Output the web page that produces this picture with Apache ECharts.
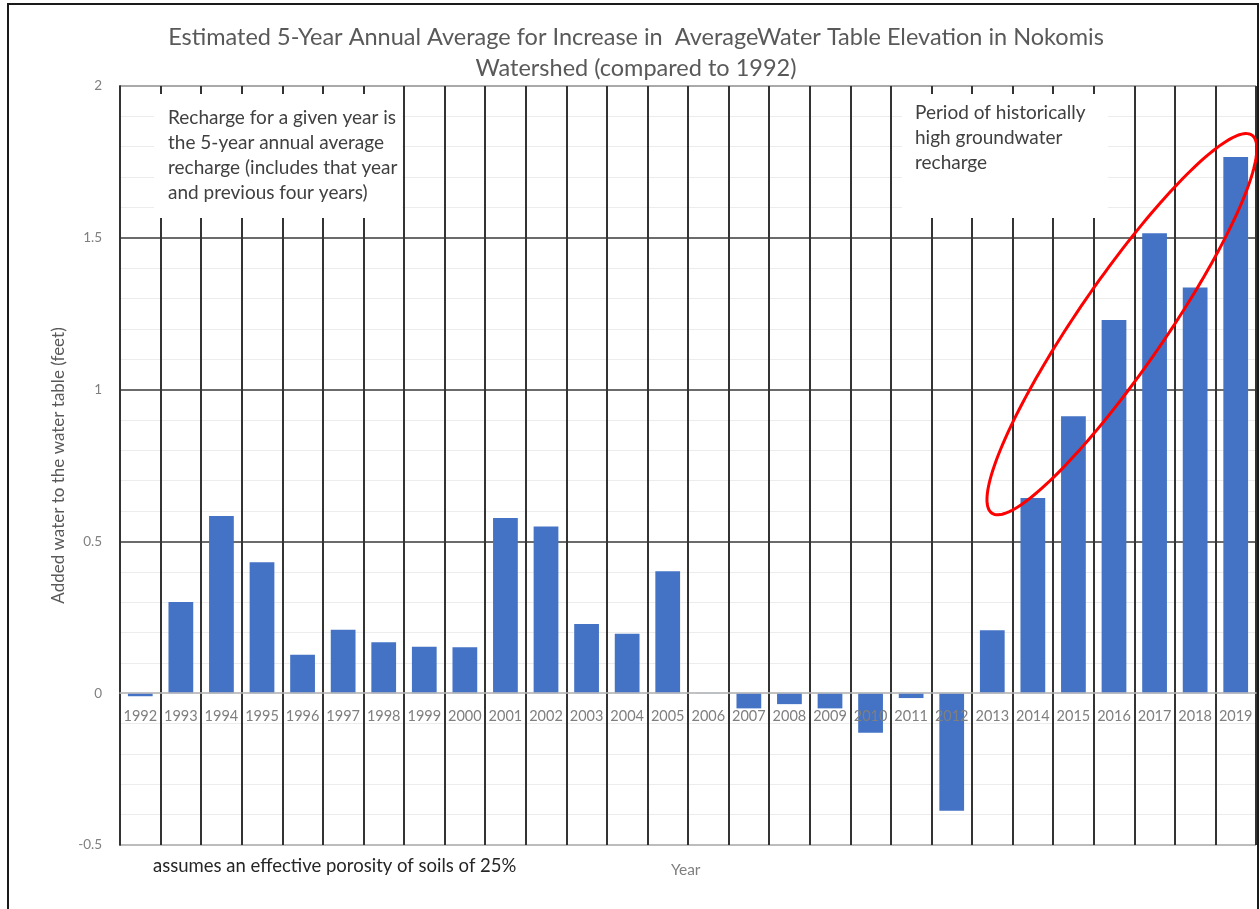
<!DOCTYPE html>
<html>
<head>
<meta charset="utf-8">
<script src="https://cdn.jsdelivr.net/npm/echarts@6/dist/echarts.min.js"></script>
<style>
html,body{margin:0;padding:0;background:#fff;}
#chart{width:1260px;height:909px;}
</style>
</head>
<body>
<div id="chart"></div>
<script>
const years = ['1992','1993','1994','1995','1996','1997','1998','1999','2000','2001','2002','2003','2004','2005','2006','2007','2008','2009','2010','2011','2012','2013','2014','2015','2016','2017','2018','2019'];
const addedWater = [-0.01,0.30,0.584,0.431,0.127,0.209,0.168,0.153,0.151,0.577,0.549,0.228,0.196,0.402,0.001,-0.05,-0.036,-0.05,-0.13,-0.016,-0.387,0.207,0.643,0.912,1.229,1.515,1.336,1.766];
const yTicks = {min:-0.5, max:2, interval:0.5};
const titleLines = ['Estimated 5-Year Annual Average for Increase in  AverageWater Table Elevation in Nokomis','Watershed (compared to 1992)'];
const noteLeft = ['Recharge for a given year is','the 5-year annual average','recharge (includes that year','and previous four years)'];
const noteRight = ['Period of historically','high groundwater','recharge'];
const footnote = 'assumes an effective porosity of soils of 25%';
const yName = 'Added water to the water table (feet)';
const xName = 'Year';
// ellipse annotation tips in data space: [category index (0 = centre of 1992), value]
const ellipseTips = [[20.99,0.593],[27.4,1.838]];
const ellipseHalfWidthCats = 1.08;

const FONT = 'Lato';
const GRID = {left:120, right:4, top:86, bottom:64};
const gridH = 909 - GRID.top - GRID.bottom;
const zeroOffset = -gridH * (0 - yTicks.min) / (yTicks.max - yTicks.min);

const chart = echarts.init(document.getElementById('chart'), null, {renderer:'canvas'});
const splitColors = ['#a6a6a6','#bfbfbf','#3a3a3a','#3a3a3a','#3a3a3a','#8c8c8c'];
chart.setOption({
  animation:false,
  backgroundColor:'#fff',
  textStyle:{fontFamily:FONT},
  grid:Object.assign({containLabel:false}, GRID),
  xAxis:{
    type:'category', data:years, boundaryGap:true, z:5,
    offset: zeroOffset,
    axisLine:{show:true, onZero:false, lineStyle:{color:'#bfbfbf', width:1.5}},
    axisTick:{show:false},
    axisLabel:{interval:0, color:'#7f7f7f', fontSize:14.5, margin:16, fontFamily:FONT},
    splitLine:{show:true, interval:0, lineStyle:{color:'#333', width:2}}
  },
  yAxis:{
    type:'value', min:yTicks.min, max:yTicks.max, interval:yTicks.interval,
    name:yName, nameLocation:'middle', nameGap:48,
    nameTextStyle:{color:'#595959', fontSize:17, fontFamily:FONT},
    axisLine:{show:true, lineStyle:{color:'#444', width:2}},
    axisTick:{show:false},
    axisLabel:{color:'#7f7f7f', fontSize:13.5, margin:18, fontFamily:FONT},
    splitLine:{show:true, lineStyle:{color:splitColors, width:1.5}},
    minorTick:{show:false, splitNumber:5},
    minorSplitLine:{show:true, lineStyle:{color:'#ececec', width:1}}
  },
  series:[{
    type:'bar', data:addedWater, barCategoryGap:'39%',
    itemStyle:{color:'#4472C4'}
  }]
});

function boxGroup(x, y, w, h, tx, ty, lines){
  return {
    type:'group', x:x, y:y, z:100,
    children:[
      {type:'rect', z:100, shape:{x:0,y:0,width:w,height:h}, style:{fill:'#fff'}},
      {type:'text', z:101, x:tx, y:ty, style:{text:lines.join('\n'), fill:'#404040', font:'19px ' + FONT, lineHeight:25}}
    ]
  };
}

const p0 = chart.convertToPixel({gridIndex:0},[0,0]);
const p1 = chart.convertToPixel({gridIndex:0},[1,1]);
const catW = p1[0]-p0[0], unitH = p1[1]-p0[1];
function toPx(c, v){ return [p0[0]+c*catW, p0[1]+v*unitH]; }
const t1 = toPx(ellipseTips[0][0], ellipseTips[0][1]);
const t2 = toPx(ellipseTips[1][0], ellipseTips[1][1]);
const cx = (t1[0]+t2[0])/2, cy = (t1[1]+t2[1])/2;
const a = Math.hypot(t2[0]-t1[0], t2[1]-t1[1])/2;
const b = ellipseHalfWidthCats*catW;
const ux = (t2[0]-t1[0])/(2*a), uy = (t2[1]-t1[1])/(2*a);
const vx = -uy, vy = ux;
const ellPts = [];
for (let i = 0; i < 180; i++) {
  const t = i/180*2*Math.PI;
  ellPts.push([cx + a*Math.cos(t)*ux + b*Math.sin(t)*vx, cy + a*Math.cos(t)*uy + b*Math.sin(t)*vy]);
}

chart.setOption({
  graphic:[
    {type:'rect', z:200, shape:{x:8,y:4,width:1250,height:920}, style:{fill:'none', stroke:'#1a1a1a', lineWidth:2}},
    {type:'text', z:100, x:636, y:37, style:{text:titleLines[0], fill:'#595959', font:'23.5px ' + FONT, textAlign:'center', textVerticalAlign:'middle'}},
    {type:'text', z:100, x:636, y:68, style:{text:titleLines[1], fill:'#595959', font:'23.5px ' + FONT, textAlign:'center', textVerticalAlign:'middle'}},
    boxGroup(154, 94, 248, 124, 14, 11, noteLeft),
    boxGroup(902, 94, 206, 124, 13, 6, noteRight),
    {type:'polygon', z:150, shape:{points:ellPts}, style:{fill:'none', stroke:'#ff0000', lineWidth:3}},
    {type:'text', z:100, x:153, y:866, style:{text:footnote, fill:'#262626', font:'18.5px ' + FONT, textVerticalAlign:'middle'}},
    {type:'text', z:100, x:671, y:870, style:{text:xName, fill:'#7f7f7f', font:'15.5px ' + FONT, textVerticalAlign:'middle'}}
  ]
});
</script>
</body>
</html>
